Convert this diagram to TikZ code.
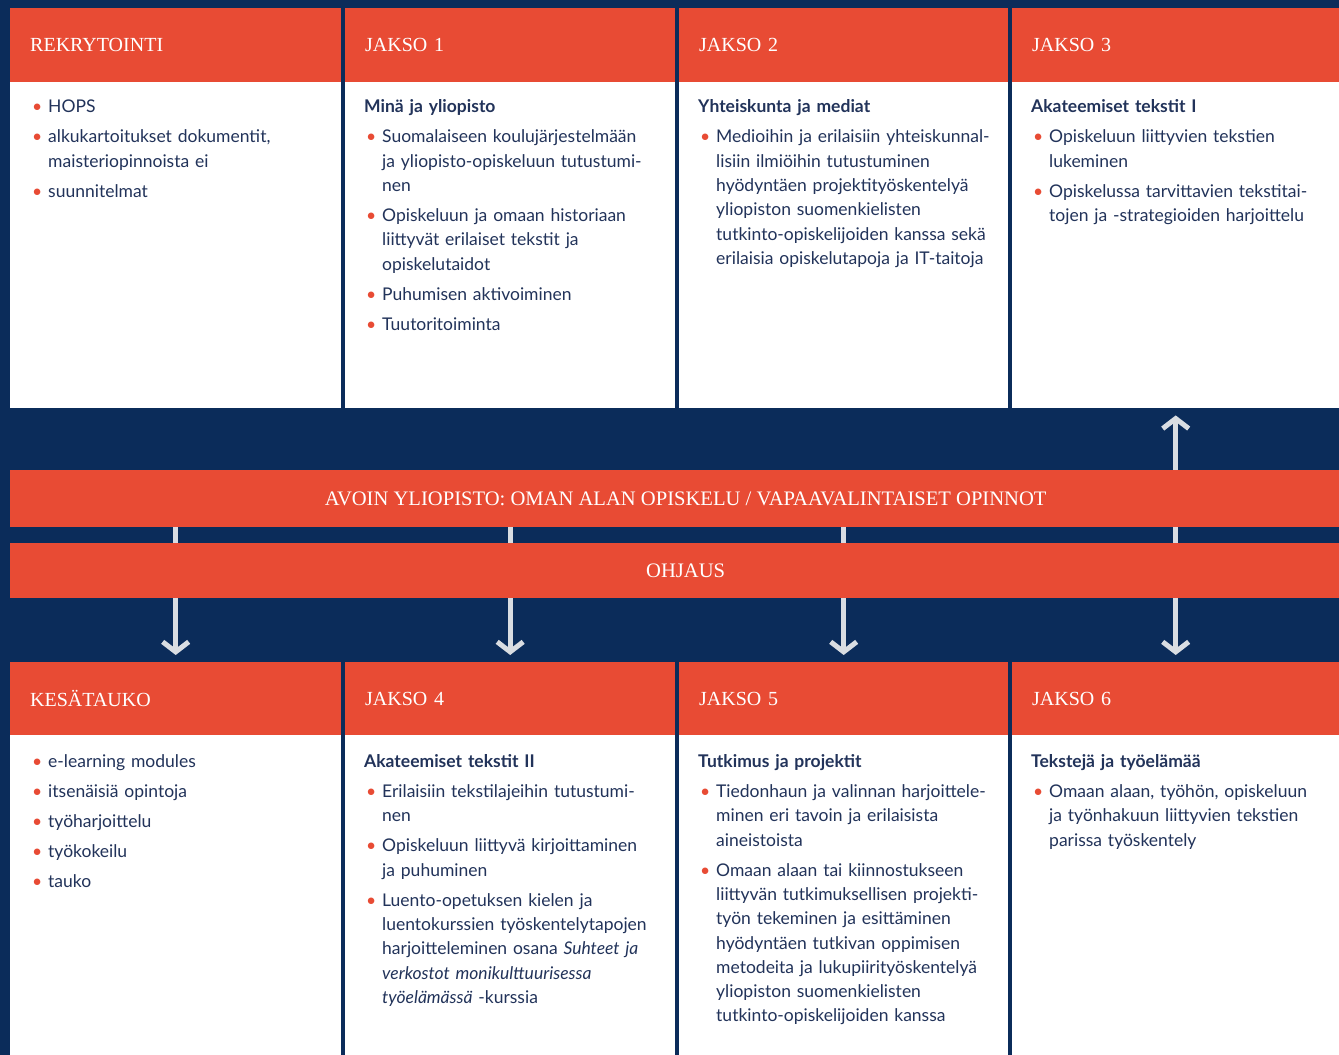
\documentclass[tikz,border=0pt]{standalone}
\usepackage{fontspec}
\setmainfont{Lato}
\newfontfamily\hfont{Liberation Serif}
\usetikzlibrary{arrows.meta}
\definecolor{navy}{HTML}{0B2C5A}
\definecolor{borange}{HTML}{E84B34}
\definecolor{btext}{HTML}{22335A}
\definecolor{agray}{HTML}{D9DDE2}
\pgfdeclarelayer{bg}\pgfdeclarelayer{arr}\pgfsetlayers{bg,arr,main}
\newcommand{\bitem}[1]{\par\hangindent=18pt\hangafter=1\noindent\makebox[18pt][l]{\hspace{2pt}\textcolor{borange}{\textbullet}}#1\par}
\newcommand{\btitle}[1]{\par\noindent\textbf{#1}\par}
\newcommand{\colstart}{\setlength{\parskip}{5.8pt}\raggedright}
\newcommand{\nl}{\newline}
\tikzset{
  hdr/.style={fill=borange, text=white, font=\hfont\fontsize{20}{24}\selectfont, minimum height=74pt, inner xsep=20pt, inner ysep=0pt, align=left, anchor=north west},
  bodybox/.style={fill=white, anchor=north west, inner sep=0pt},
  txt/.style={anchor=north west, inner sep=0pt, text width=312pt, text=btext, font=\fontsize{17.5}{24.3}\selectfont},
  band/.style={fill=borange, anchor=north west, inner sep=0pt, minimum width=1329pt},
  bandtxt/.style={text=white, font=\hfont\fontsize{20.6}{24}\selectfont, inner sep=0pt},
  flow/.style={draw=agray, line width=5pt, -{Straight Barb[length=10pt,width=26pt]}}
}
\begin{document}
\begin{tikzpicture}[x=1pt,y=-1pt]
\useasboundingbox (0,0) rectangle (1339,1055);
\begin{pgfonlayer}{bg}
\fill[navy] (0,0) rectangle (1339,1055);
\end{pgfonlayer}
% top headers
\node[hdr, text width=291pt] (h1) at (10,8) {REKRYTOINTI};
\node[hdr, text width=290pt] (h2) at (345,8) {JAKSO 1};
\node[hdr, text width=289pt] (h3) at (679,8) {JAKSO 2};
\node[hdr, text width=287pt] (h4) at (1012,8) {JAKSO 3};
% top bodies
\node[bodybox, minimum width=331pt, minimum height=326pt] (b1) at (10,82) {};
\node[bodybox, minimum width=330pt, minimum height=326pt] (b2) at (345,82) {};
\node[bodybox, minimum width=329pt, minimum height=326pt] (b3) at (679,82) {};
\node[bodybox, minimum width=327pt, minimum height=326pt] (b4) at (1012,82) {};
\node[txt] (t1) at ([shift={(20pt,-0.5pt)}]b1.north west) {\colstart%
\bitem{HOPS}%
\bitem{alkukartoitukset dokumentit,\nl maisteriopinnoista ei}%
\bitem{suunnitelmat}};
\node[txt] (t2) at ([shift={(19pt,-0.5pt)}]b2.north west) {\colstart%
\btitle{Minä ja yliopisto}%
\bitem{Suomalaiseen koulujärjestelmään\nl ja yliopisto-opiskeluun tutustumi-\nl nen}%
\bitem{Opiskeluun ja omaan historiaan\nl liittyvät erilaiset tekstit ja\nl opiskelutaidot}%
\bitem{Puhumisen aktivoiminen}%
\bitem{Tuutoritoiminta}};
\node[txt] (t3) at ([shift={(19pt,-0.5pt)}]b3.north west) {\colstart%
\btitle{Yhteiskunta ja mediat}%
\bitem{Medioihin ja erilaisiin yhteiskunnal-\nl lisiin ilmiöihin tutustuminen\nl hyödyntäen projektityöskentelyä\nl yliopiston suomenkielisten\nl tutkinto-opiskelijoiden kanssa sekä\nl erilaisia opiskelutapoja ja IT-taitoja}};
\node[txt] (t4) at ([shift={(19pt,-0.5pt)}]b4.north west) {\colstart%
\btitle{Akateemiset tekstit I}%
\bitem{Opiskeluun liittyvien tekstien\nl lukeminen}%
\bitem{Opiskelussa tarvittavien tekstitai-\nl tojen ja -strategioiden harjoittelu}};
% bands
\node[band, minimum height=57pt] (avoin) at (10,470) {};
\node[bandtxt] (avointxt) at ([xshift=11pt]avoin.center) {AVOIN YLIOPISTO: OMAN ALAN OPISKELU / VAPAAVALINTAISET OPINNOT};
\node[band, minimum height=55pt] (ohjaus) at (10,543) {};
\node[bandtxt] (ohjaustxt) at ([xshift=11pt]ohjaus.center) {OHJAUS};
% bottom headers
\node[hdr, text width=291pt, minimum height=73pt] (hb1) at (10,662) {KESÄTAUKO};
\node[hdr, text width=290pt, minimum height=73pt] (hb2) at (345,662) {JAKSO 4};
\node[hdr, text width=289pt, minimum height=73pt] (hb3) at (679,662) {JAKSO 5};
\node[hdr, text width=287pt, minimum height=73pt] (hb4) at (1012,662) {JAKSO 6};
% bottom bodies
\node[bodybox, minimum width=331pt, minimum height=320pt] (u1) at (10,735) {};
\node[bodybox, minimum width=330pt, minimum height=320pt] (u2) at (345,735) {};
\node[bodybox, minimum width=329pt, minimum height=320pt] (u3) at (679,735) {};
\node[bodybox, minimum width=327pt, minimum height=320pt] (u4) at (1012,735) {};
\node[txt] (v1) at ([shift={(20pt,-2pt)}]u1.north west) {\colstart%
\bitem{e-learning modules}%
\bitem{itsenäisiä opintoja}%
\bitem{työharjoittelu}%
\bitem{työkokeilu}%
\bitem{tauko}};
\node[txt] (v2) at ([shift={(19pt,-2pt)}]u2.north west) {\colstart%
\btitle{Akateemiset tekstit II}%
\bitem{Erilaisiin tekstilajeihin tutustumi-\nl nen}%
\bitem{Opiskeluun liittyvä kirjoittaminen\nl ja puhuminen}%
\bitem{Luento-opetuksen kielen ja\nl luentokurssien työskentelytapojen\nl harjoitteleminen osana \textit{Suhteet ja}\nl \textit{verkostot monikulttuurisessa}\nl \textit{työelämässä} -kurssia}};
\node[txt] (v3) at ([shift={(19pt,-2pt)}]u3.north west) {\colstart%
\btitle{Tutkimus ja projektit}%
\bitem{Tiedonhaun ja valinnan harjoittele-\nl minen eri tavoin ja erilaisista\nl aineistoista}%
\bitem{Omaan alaan tai kiinnostukseen\nl liittyvän tutkimuksellisen projekti-\nl työn tekeminen ja esittäminen\nl hyödyntäen tutkivan oppimisen\nl metodeita ja lukupiirityöskentelyä\nl yliopiston suomenkielisten\nl tutkinto-opiskelijoiden kanssa}};
\node[txt] (v4) at ([shift={(19pt,-2pt)}]u4.north west) {\colstart%
\btitle{Tekstejä ja työelämää}%
\bitem{Omaan alaan, työhön, opiskeluun\nl ja työnhakuun liittyvien tekstien\nl parissa työskentely}};
% arrows
\begin{pgfonlayer}{arr}
\draw[flow, shorten >=7pt] (avoin.center -| hb1.north) -- (hb1.north);
\draw[flow, shorten >=7pt] (avoin.center -| hb2.north) -- (hb2.north);
\draw[flow, shorten >=7pt] (avoin.center -| hb3.north) -- (hb3.north);
\draw[flow, {Straight Barb[length=10pt,width=26pt]}-{Straight Barb[length=10pt,width=26pt]}, shorten >=7pt, shorten <=7pt] (b4.south) -- (hb4.north);
\end{pgfonlayer}
\end{tikzpicture}
\end{document}
